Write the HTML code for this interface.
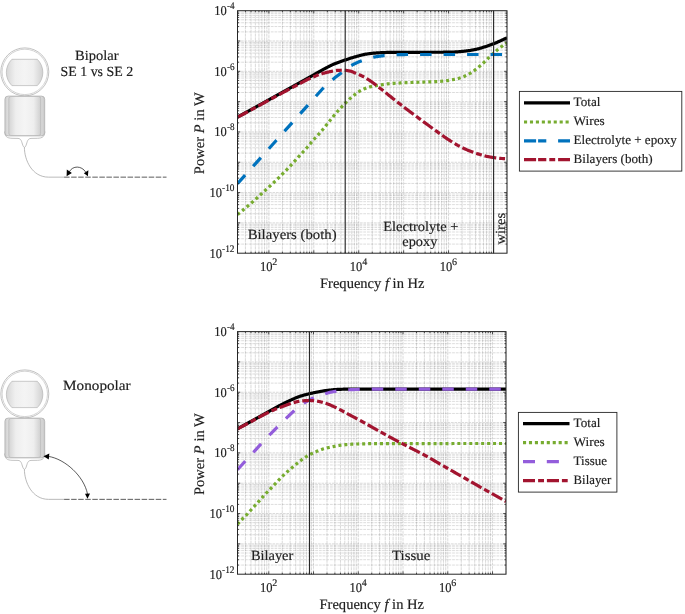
<!DOCTYPE html>
<html><head><meta charset="utf-8"><title>Power dissipation: bipolar vs monopolar</title>
<style>html,body{margin:0;padding:0;background:#fff}body{width:685px;height:614px;overflow:hidden}svg{display:block;will-change:transform}text{font-family:"Liberation Serif",serif;fill:#202020;stroke:#202020;stroke-width:0.16px;text-rendering:geometricPrecision}</style></head><body>
<svg width="685" height="614" viewBox="0 0 685 614">
<defs>
<linearGradient id="gBar" x1="0" x2="1" y1="0" y2="0"><stop offset="0" stop-color="#d6d6d6"/><stop offset="0.24" stop-color="#efefef"/><stop offset="0.5" stop-color="#f4f4f4"/><stop offset="0.74" stop-color="#efefef"/><stop offset="1" stop-color="#d0d0d0"/></linearGradient>
<linearGradient id="gBodyO" x1="0" x2="1" y1="0" y2="0"><stop offset="0" stop-color="#cfcfcf"/><stop offset="0.1" stop-color="#e2e2e2"/><stop offset="0.9" stop-color="#dcdcdc"/><stop offset="1" stop-color="#c8c8c8"/></linearGradient>
<linearGradient id="gBodyI" x1="0" x2="1" y1="0" y2="0"><stop offset="0" stop-color="#d4d4d4"/><stop offset="0.22" stop-color="#eeeeee"/><stop offset="0.5" stop-color="#f5f5f5"/><stop offset="0.78" stop-color="#eeeeee"/><stop offset="1" stop-color="#cfcfcf"/></linearGradient>
</defs>
<rect width="685" height="614" fill="#fff"/>
<!-- chart 1 : bipolar -->
<g stroke="#000" fill="none">
<path d="M237.50 10.70V253.20M245.41 10.70V253.20M251.02 10.70V253.20M255.37 10.70V253.20M258.93 10.70V253.20M261.94 10.70V253.20M264.54 10.70V253.20M266.84 10.70V253.20M282.42 10.70V253.20M290.33 10.70V253.20M295.94 10.70V253.20M300.29 10.70V253.20M303.85 10.70V253.20M306.85 10.70V253.20M309.46 10.70V253.20M311.76 10.70V253.20M327.33 10.70V253.20M335.24 10.70V253.20M340.85 10.70V253.20M345.21 10.70V253.20M348.76 10.70V253.20M351.77 10.70V253.20M354.38 10.70V253.20M356.67 10.70V253.20M372.25 10.70V253.20M380.16 10.70V253.20M385.77 10.70V253.20M390.12 10.70V253.20M393.68 10.70V253.20M396.69 10.70V253.20M399.29 10.70V253.20M401.59 10.70V253.20M417.17 10.70V253.20M425.08 10.70V253.20M430.69 10.70V253.20M435.04 10.70V253.20M438.60 10.70V253.20M441.60 10.70V253.20M444.21 10.70V253.20M446.51 10.70V253.20M462.08 10.70V253.20M469.99 10.70V253.20M475.60 10.70V253.20M479.96 10.70V253.20M483.51 10.70V253.20M486.52 10.70V253.20M489.13 10.70V253.20M491.42 10.70V253.20M507.00 10.70V253.20" stroke-width="0.9" stroke-opacity="0.17" stroke-dasharray="3.2 0.6"/>
<path d="M237.50 244.08H507.00M237.50 238.74H507.00M237.50 234.95H507.00M237.50 232.01H507.00M237.50 229.61H507.00M237.50 227.58H507.00M237.50 225.83H507.00M237.50 224.27H507.00M237.50 213.76H507.00M237.50 208.42H507.00M237.50 204.64H507.00M237.50 201.70H507.00M237.50 199.30H507.00M237.50 197.27H507.00M237.50 195.51H507.00M237.50 193.96H507.00M237.50 183.45H507.00M237.50 178.11H507.00M237.50 174.33H507.00M237.50 171.39H507.00M237.50 168.99H507.00M237.50 166.96H507.00M237.50 165.20H507.00M237.50 163.65H507.00M237.50 153.14H507.00M237.50 147.80H507.00M237.50 144.01H507.00M237.50 141.07H507.00M237.50 138.67H507.00M237.50 136.65H507.00M237.50 134.89H507.00M237.50 133.34H507.00M237.50 122.83H507.00M237.50 117.49H507.00M237.50 113.70H507.00M237.50 110.76H507.00M237.50 108.36H507.00M237.50 106.33H507.00M237.50 104.58H507.00M237.50 103.02H507.00M237.50 92.51H507.00M237.50 87.17H507.00M237.50 83.39H507.00M237.50 80.45H507.00M237.50 78.05H507.00M237.50 76.02H507.00M237.50 74.26H507.00M237.50 72.71H507.00M237.50 62.20H507.00M237.50 56.86H507.00M237.50 53.08H507.00M237.50 50.14H507.00M237.50 47.74H507.00M237.50 45.71H507.00M237.50 43.95H507.00M237.50 42.40H507.00M237.50 31.89H507.00M237.50 26.55H507.00M237.50 22.76H507.00M237.50 19.82H507.00M237.50 17.42H507.00M237.50 15.40H507.00M237.50 13.64H507.00M237.50 12.09H507.00" stroke-width="0.9" stroke-opacity="0.155" stroke-dasharray="2.8 0.9"/>
<path d="M268.90 10.70V253.20M313.81 10.70V253.20M358.73 10.70V253.20M403.65 10.70V253.20M448.56 10.70V253.20M493.48 10.70V253.20" stroke-width="0.9" stroke-opacity="0.17" stroke-dasharray="2.7 0.8"/>
<path d="M237.50 222.89H507.00M237.50 192.57H507.00M237.50 162.26H507.00M237.50 131.95H507.00M237.50 101.64H507.00M237.50 71.33H507.00M237.50 41.01H507.00" stroke-width="0.9" stroke-opacity="0.17" stroke-dasharray="2.7 0.8"/>
</g>
<clipPath id="cp1"><rect x="237.50" y="10.70" width="269.50" height="242.50"/></clipPath>
<g clip-path="url(#cp1)" fill="none" stroke-width="3.2">
<path d="M237.50 117.10L238.18 116.73L238.85 116.36L239.53 115.99L240.20 115.62L240.88 115.25L241.55 114.88L242.23 114.51L242.90 114.14L243.58 113.77L244.25 113.40L244.93 113.03L245.61 112.65L246.28 112.28L246.96 111.91L247.63 111.54L248.31 111.17L248.98 110.80L249.66 110.43L250.33 110.05L251.01 109.68L251.68 109.31L252.36 108.94L253.04 108.56L253.71 108.19L254.39 107.82L255.06 107.45L255.74 107.07L256.41 106.70L257.09 106.33L257.76 105.95L258.44 105.58L259.11 105.21L259.79 104.83L260.46 104.46L261.14 104.09L261.82 103.71L262.49 103.34L263.17 102.96L263.84 102.59L264.52 102.21L265.19 101.84L265.87 101.46L266.54 101.09L267.22 100.71L267.89 100.34L268.57 99.96L269.25 99.59L269.92 99.21L270.60 98.84L271.27 98.46L271.95 98.09L272.62 97.71L273.30 97.34L273.97 96.96L274.65 96.58L275.32 96.21L276.00 95.83L276.68 95.46L277.35 95.08L278.03 94.71L278.70 94.33L279.38 93.96L280.05 93.58L280.73 93.21L281.40 92.83L282.08 92.46L282.75 92.08L283.43 91.71L284.11 91.33L284.78 90.95L285.46 90.58L286.13 90.20L286.81 89.83L287.48 89.45L288.16 89.08L288.83 88.70L289.51 88.33L290.18 87.95L290.86 87.57L291.54 87.20L292.21 86.82L292.89 86.45L293.56 86.07L294.24 85.70L294.91 85.32L295.59 84.94L296.26 84.57L296.94 84.19L297.61 83.81L298.29 83.44L298.96 83.06L299.64 82.69L300.32 82.31L300.99 81.93L301.67 81.56L302.34 81.18L303.02 80.80L303.69 80.42L304.37 80.05L305.04 79.67L305.72 79.29L306.39 78.92L307.07 78.54L307.75 78.16L308.42 77.78L309.10 77.41L309.77 77.03L310.45 76.65L311.12 76.28L311.80 75.90L312.47 75.52L313.15 75.15L313.82 74.77L314.50 74.39L315.18 74.02L315.85 73.64L316.53 73.26L317.20 72.89L317.88 72.51L318.55 72.13L319.23 71.75L319.90 71.36L320.58 70.98L321.25 70.60L321.93 70.22L322.61 69.84L323.28 69.46L323.96 69.09L324.63 68.73L325.31 68.36L325.98 68.01L326.66 67.66L327.33 67.30L328.01 66.95L328.68 66.60L329.36 66.26L330.04 65.91L330.71 65.57L331.39 65.24L332.06 64.91L332.74 64.59L333.41 64.29L334.09 63.99L334.76 63.70L335.44 63.42L336.11 63.15L336.79 62.89L337.46 62.64L338.14 62.39L338.82 62.15L339.49 61.91L340.17 61.68L340.84 61.45L341.52 61.22L342.19 60.99L342.87 60.77L343.54 60.55L344.22 60.32L344.89 60.10L345.57 59.88L346.25 59.65L346.92 59.43L347.60 59.20L348.27 58.98L348.95 58.76L349.62 58.54L350.30 58.32L350.97 58.10L351.65 57.89L352.32 57.67L353.00 57.47L353.68 57.26L354.35 57.06L355.03 56.86L355.70 56.67L356.38 56.49L357.05 56.31L357.73 56.12L358.40 55.94L359.08 55.76L359.75 55.57L360.43 55.39L361.11 55.22L361.78 55.05L362.46 54.88L363.13 54.72L363.81 54.57L364.48 54.43L365.16 54.29L365.83 54.17L366.51 54.06L367.18 53.96L367.86 53.86L368.54 53.77L369.21 53.68L369.89 53.60L370.56 53.51L371.24 53.43L371.91 53.36L372.59 53.28L373.26 53.21L373.94 53.15L374.61 53.08L375.29 53.03L375.96 52.97L376.64 52.92L377.32 52.88L377.99 52.84L378.67 52.80L379.34 52.77L380.02 52.74L380.69 52.71L381.37 52.68L382.04 52.65L382.72 52.62L383.39 52.59L384.07 52.56L384.75 52.54L385.42 52.51L386.10 52.49L386.77 52.47L387.45 52.45L388.12 52.43L388.80 52.41L389.47 52.40L390.15 52.39L390.82 52.37L391.50 52.36L392.18 52.36L392.85 52.35L393.53 52.35L394.20 52.35L394.88 52.34L395.55 52.34L396.23 52.34L396.90 52.34L397.58 52.34L398.25 52.33L398.93 52.33L399.61 52.33L400.28 52.33L400.96 52.33L401.63 52.33L402.31 52.33L402.98 52.33L403.66 52.32L404.33 52.32L405.01 52.32L405.68 52.32L406.36 52.32L407.04 52.32L407.71 52.32L408.39 52.32L409.06 52.32L409.74 52.32L410.41 52.32L411.09 52.32L411.76 52.31L412.44 52.31L413.11 52.31L413.79 52.31L414.46 52.31L415.14 52.31L415.82 52.31L416.49 52.31L417.17 52.31L417.84 52.30L418.52 52.30L419.19 52.30L419.87 52.30L420.54 52.30L421.22 52.30L421.89 52.30L422.57 52.29L423.25 52.29L423.92 52.29L424.60 52.29L425.27 52.29L425.95 52.29L426.62 52.28L427.30 52.28L427.97 52.28L428.65 52.28L429.32 52.28L430.00 52.28L430.68 52.27L431.35 52.27L432.03 52.27L432.70 52.27L433.38 52.27L434.05 52.27L434.73 52.26L435.40 52.26L436.08 52.26L436.75 52.26L437.43 52.25L438.11 52.25L438.78 52.25L439.46 52.24L440.13 52.24L440.81 52.24L441.48 52.23L442.16 52.23L442.83 52.23L443.51 52.22L444.18 52.22L444.86 52.21L445.54 52.21L446.21 52.20L446.89 52.20L447.56 52.19L448.24 52.18L448.91 52.17L449.59 52.15L450.26 52.13L450.94 52.11L451.61 52.09L452.29 52.06L452.96 52.03L453.64 52.01L454.32 51.98L454.99 51.95L455.67 51.92L456.34 51.88L457.02 51.85L457.69 51.80L458.37 51.76L459.04 51.70L459.72 51.65L460.39 51.59L461.07 51.53L461.75 51.46L462.42 51.39L463.10 51.32L463.77 51.26L464.45 51.18L465.12 51.11L465.80 51.03L466.47 50.95L467.15 50.86L467.82 50.77L468.50 50.68L469.18 50.58L469.85 50.48L470.53 50.38L471.20 50.27L471.88 50.15L472.55 50.03L473.23 49.90L473.90 49.77L474.58 49.63L475.25 49.49L475.93 49.34L476.61 49.19L477.28 49.03L477.96 48.86L478.63 48.69L479.31 48.51L479.98 48.32L480.66 48.13L481.33 47.93L482.01 47.73L482.68 47.52L483.36 47.31L484.04 47.09L484.71 46.88L485.39 46.66L486.06 46.44L486.74 46.23L487.41 46.01L488.09 45.78L488.76 45.55L489.44 45.32L490.11 45.09L490.79 44.85L491.46 44.61L492.14 44.36L492.82 44.10L493.49 43.84L494.17 43.58L494.84 43.30L495.52 43.01L496.19 42.72L496.87 42.42L497.54 42.12L498.22 41.82L498.89 41.51L499.57 41.20L500.25 40.90L500.92 40.59L501.60 40.29L502.27 39.98L502.95 39.67L503.62 39.37L504.30 39.05L504.97 38.74L505.65 38.43L506.32 38.12L507.00 37.80" stroke="#000000"/>
<path d="M237.50 214.60L238.18 214.04L238.85 213.47L239.53 212.92L240.20 212.36L240.88 211.81L241.55 211.26L242.23 210.70L242.90 210.15L243.58 209.60L244.25 209.05L244.93 208.49L245.61 207.93L246.28 207.37L246.96 206.80L247.63 206.23L248.31 205.65L248.98 205.07L249.66 204.48L250.33 203.89L251.01 203.30L251.68 202.70L252.36 202.10L253.04 201.50L253.71 200.89L254.39 200.29L255.06 199.68L255.74 199.07L256.41 198.46L257.09 197.85L257.76 197.24L258.44 196.62L259.11 196.00L259.79 195.38L260.46 194.75L261.14 194.13L261.82 193.50L262.49 192.88L263.17 192.25L263.84 191.63L264.52 191.00L265.19 190.38L265.87 189.76L266.54 189.14L267.22 188.53L267.89 187.91L268.57 187.30L269.25 186.69L269.92 186.07L270.60 185.46L271.27 184.84L271.95 184.22L272.62 183.59L273.30 182.96L273.97 182.32L274.65 181.68L275.32 181.04L276.00 180.39L276.68 179.74L277.35 179.09L278.03 178.43L278.70 177.77L279.38 177.11L280.05 176.44L280.73 175.77L281.40 175.10L282.08 174.42L282.75 173.74L283.43 173.06L284.11 172.38L284.78 171.69L285.46 170.99L286.13 170.30L286.81 169.60L287.48 168.90L288.16 168.19L288.83 167.48L289.51 166.77L290.18 166.05L290.86 165.33L291.54 164.60L292.21 163.87L292.89 163.13L293.56 162.39L294.24 161.64L294.91 160.89L295.59 160.14L296.26 159.39L296.94 158.64L297.61 157.89L298.29 157.14L298.96 156.40L299.64 155.66L300.32 154.92L300.99 154.19L301.67 153.45L302.34 152.72L303.02 151.98L303.69 151.24L304.37 150.49L305.04 149.75L305.72 148.99L306.39 148.23L307.07 147.46L307.75 146.68L308.42 145.89L309.10 145.10L309.77 144.30L310.45 143.50L311.12 142.69L311.80 141.89L312.47 141.10L313.15 140.31L313.82 139.53L314.50 138.76L315.18 138.01L315.85 137.26L316.53 136.53L317.20 135.79L317.88 135.06L318.55 134.33L319.23 133.60L319.90 132.85L320.58 132.10L321.25 131.33L321.93 130.55L322.61 129.74L323.28 128.92L323.96 128.09L324.63 127.25L325.31 126.40L325.98 125.54L326.66 124.68L327.33 123.83L328.01 122.98L328.68 122.14L329.36 121.31L330.04 120.47L330.71 119.62L331.39 118.78L332.06 117.93L332.74 117.09L333.41 116.26L334.09 115.43L334.76 114.61L335.44 113.80L336.11 113.00L336.79 112.23L337.46 111.46L338.14 110.71L338.82 109.96L339.49 109.22L340.17 108.49L340.84 107.77L341.52 107.06L342.19 106.35L342.87 105.65L343.54 104.96L344.22 104.28L344.89 103.60L345.57 102.93L346.25 102.26L346.92 101.59L347.60 100.92L348.27 100.26L348.95 99.60L349.62 98.95L350.30 98.32L350.97 97.70L351.65 97.10L352.32 96.51L353.00 95.95L353.68 95.42L354.35 94.90L355.03 94.39L355.70 93.88L356.38 93.38L357.05 92.89L357.73 92.42L358.40 91.96L359.08 91.52L359.75 91.09L360.43 90.69L361.11 90.31L361.78 89.95L362.46 89.62L363.13 89.31L363.81 89.01L364.48 88.73L365.16 88.45L365.83 88.19L366.51 87.94L367.18 87.70L367.86 87.48L368.54 87.27L369.21 87.08L369.89 86.90L370.56 86.74L371.24 86.58L371.91 86.43L372.59 86.29L373.26 86.15L373.94 86.02L374.61 85.90L375.29 85.78L375.96 85.66L376.64 85.55L377.32 85.44L377.99 85.33L378.67 85.23L379.34 85.12L380.02 85.01L380.69 84.91L381.37 84.80L382.04 84.69L382.72 84.59L383.39 84.48L384.07 84.38L384.75 84.28L385.42 84.18L386.10 84.09L386.77 84.00L387.45 83.91L388.12 83.83L388.80 83.76L389.47 83.69L390.15 83.62L390.82 83.56L391.50 83.51L392.18 83.46L392.85 83.41L393.53 83.36L394.20 83.31L394.88 83.27L395.55 83.22L396.23 83.18L396.90 83.14L397.58 83.10L398.25 83.07L398.93 83.03L399.61 82.99L400.28 82.96L400.96 82.93L401.63 82.89L402.31 82.86L402.98 82.83L403.66 82.80L404.33 82.77L405.01 82.74L405.68 82.71L406.36 82.68L407.04 82.65L407.71 82.63L408.39 82.60L409.06 82.58L409.74 82.55L410.41 82.53L411.09 82.50L411.76 82.48L412.44 82.46L413.11 82.43L413.79 82.41L414.46 82.38L415.14 82.36L415.82 82.34L416.49 82.31L417.17 82.29L417.84 82.26L418.52 82.24L419.19 82.21L419.87 82.19L420.54 82.16L421.22 82.14L421.89 82.11L422.57 82.09L423.25 82.06L423.92 82.04L424.60 82.02L425.27 81.99L425.95 81.96L426.62 81.94L427.30 81.91L427.97 81.89L428.65 81.86L429.32 81.83L430.00 81.81L430.68 81.78L431.35 81.76L432.03 81.73L432.70 81.71L433.38 81.68L434.05 81.66L434.73 81.63L435.40 81.60L436.08 81.57L436.75 81.54L437.43 81.50L438.11 81.47L438.78 81.43L439.46 81.39L440.13 81.35L440.81 81.30L441.48 81.25L442.16 81.19L442.83 81.13L443.51 81.06L444.18 80.99L444.86 80.92L445.54 80.84L446.21 80.76L446.89 80.67L447.56 80.57L448.24 80.46L448.91 80.34L449.59 80.21L450.26 80.09L450.94 79.96L451.61 79.83L452.29 79.71L452.96 79.59L453.64 79.46L454.32 79.33L454.99 79.20L455.67 79.06L456.34 78.92L457.02 78.76L457.69 78.60L458.37 78.43L459.04 78.24L459.72 78.05L460.39 77.84L461.07 77.62L461.75 77.38L462.42 77.14L463.10 76.89L463.77 76.61L464.45 76.32L465.12 76.01L465.80 75.68L466.47 75.34L467.15 74.99L467.82 74.64L468.50 74.28L469.18 73.90L469.85 73.50L470.53 73.10L471.20 72.68L471.88 72.25L472.55 71.80L473.23 71.34L473.90 70.87L474.58 70.37L475.25 69.85L475.93 69.32L476.61 68.79L477.28 68.24L477.96 67.69L478.63 67.13L479.31 66.56L479.98 65.97L480.66 65.38L481.33 64.78L482.01 64.18L482.68 63.57L483.36 62.96L484.04 62.33L484.71 61.70L485.39 61.07L486.06 60.42L486.74 59.77L487.41 59.10L488.09 58.41L488.76 57.72L489.44 57.03L490.11 56.37L490.79 55.72L491.46 55.10L492.14 54.49L492.82 53.89L493.49 53.29L494.17 52.71L494.84 52.12L495.52 51.54L496.19 50.96L496.87 50.38L497.54 49.80L498.22 49.22L498.89 48.65L499.57 48.10L500.25 47.56L500.92 47.05L501.60 46.54L502.27 46.05L502.95 45.57L503.62 45.09L504.30 44.61L504.97 44.13L505.65 43.65L506.32 43.17L507.00 42.70" stroke="#77AC30" stroke-dasharray="3 2.95"/>
<path d="M237.50 183.70L238.18 182.95L238.85 182.19L239.53 181.44L240.20 180.69L240.88 179.93L241.55 179.18L242.23 178.43L242.90 177.67L243.58 176.92L244.25 176.17L244.93 175.41L245.61 174.66L246.28 173.91L246.96 173.15L247.63 172.40L248.31 171.65L248.98 170.89L249.66 170.14L250.33 169.39L251.01 168.63L251.68 167.88L252.36 167.13L253.04 166.37L253.71 165.62L254.39 164.86L255.06 164.11L255.74 163.36L256.41 162.60L257.09 161.85L257.76 161.10L258.44 160.34L259.11 159.59L259.79 158.83L260.46 158.08L261.14 157.33L261.82 156.57L262.49 155.82L263.17 155.07L263.84 154.31L264.52 153.56L265.19 152.80L265.87 152.05L266.54 151.30L267.22 150.54L267.89 149.79L268.57 149.03L269.25 148.28L269.92 147.52L270.60 146.77L271.27 146.02L271.95 145.26L272.62 144.51L273.30 143.75L273.97 143.00L274.65 142.24L275.32 141.49L276.00 140.74L276.68 139.98L277.35 139.23L278.03 138.47L278.70 137.72L279.38 136.97L280.05 136.21L280.73 135.46L281.40 134.70L282.08 133.95L282.75 133.19L283.43 132.44L284.11 131.69L284.78 130.93L285.46 130.18L286.13 129.43L286.81 128.67L287.48 127.92L288.16 127.16L288.83 126.41L289.51 125.66L290.18 124.90L290.86 124.15L291.54 123.39L292.21 122.64L292.89 121.89L293.56 121.13L294.24 120.38L294.91 119.62L295.59 118.87L296.26 118.12L296.94 117.36L297.61 116.61L298.29 115.86L298.96 115.10L299.64 114.35L300.32 113.60L300.99 112.84L301.67 112.09L302.34 111.34L303.02 110.58L303.69 109.83L304.37 109.08L305.04 108.32L305.72 107.57L306.39 106.82L307.07 106.06L307.75 105.31L308.42 104.55L309.10 103.80L309.77 103.04L310.45 102.29L311.12 101.54L311.80 100.78L312.47 100.03L313.15 99.28L313.82 98.53L314.50 97.78L315.18 97.03L315.85 96.28L316.53 95.53L317.20 94.79L317.88 94.04L318.55 93.28L319.23 92.52L319.90 91.77L320.58 91.01L321.25 90.26L321.93 89.52L322.61 88.78L323.28 88.06L323.96 87.36L324.63 86.67L325.31 85.99L325.98 85.32L326.66 84.66L327.33 84.02L328.01 83.39L328.68 82.78L329.36 82.19L330.04 81.62L330.71 81.07L331.39 80.53L332.06 80.00L332.74 79.47L333.41 78.93L334.09 78.40L334.76 77.87L335.44 77.34L336.11 76.81L336.79 76.28L337.46 75.76L338.14 75.23L338.82 74.72L339.49 74.20L340.17 73.68L340.84 73.17L341.52 72.66L342.19 72.15L342.87 71.64L343.54 71.12L344.22 70.59L344.89 70.06L345.57 69.53L346.25 69.01L346.92 68.49L347.60 67.98L348.27 67.49L348.95 67.01L349.62 66.55L350.30 66.11L350.97 65.70L351.65 65.32L352.32 64.95L353.00 64.59L353.68 64.24L354.35 63.91L355.03 63.58L355.70 63.26L356.38 62.95L357.05 62.65L357.73 62.35L358.40 62.07L359.08 61.79L359.75 61.52L360.43 61.26L361.11 61.00L361.78 60.76L362.46 60.52L363.13 60.28L363.81 60.05L364.48 59.82L365.16 59.59L365.83 59.37L366.51 59.15L367.18 58.94L367.86 58.73L368.54 58.53L369.21 58.33L369.89 58.14L370.56 57.96L371.24 57.79L371.91 57.62L372.59 57.46L373.26 57.31L373.94 57.17L374.61 57.04L375.29 56.91L375.96 56.79L376.64 56.67L377.32 56.55L377.99 56.44L378.67 56.34L379.34 56.23L380.02 56.13L380.69 56.04L381.37 55.95L382.04 55.87L382.72 55.79L383.39 55.71L384.07 55.64L384.75 55.58L385.42 55.51L386.10 55.45L386.77 55.39L387.45 55.33L388.12 55.27L388.80 55.22L389.47 55.16L390.15 55.11L390.82 55.06L391.50 55.01L392.18 54.97L392.85 54.93L393.53 54.89L394.20 54.85L394.88 54.81L395.55 54.78L396.23 54.75L396.90 54.73L397.58 54.70L398.25 54.68L398.93 54.66L399.61 54.64L400.28 54.63L400.96 54.61L401.63 54.59L402.31 54.57L402.98 54.56L403.66 54.55L404.33 54.53L405.01 54.52L405.68 54.51L406.36 54.51L407.04 54.50L407.71 54.50L408.39 54.50L409.06 54.50L409.74 54.50L410.41 54.50L411.09 54.50L411.76 54.50L412.44 54.50L413.11 54.50L413.79 54.50L414.46 54.50L415.14 54.50L415.82 54.50L416.49 54.50L417.17 54.50L417.84 54.50L418.52 54.50L419.19 54.50L419.87 54.50L420.54 54.50L421.22 54.50L421.89 54.50L422.57 54.50L423.25 54.50L423.92 54.50L424.60 54.50L425.27 54.50L425.95 54.50L426.62 54.50L427.30 54.50L427.97 54.50L428.65 54.50L429.32 54.50L430.00 54.50L430.68 54.50L431.35 54.50L432.03 54.50L432.70 54.50L433.38 54.50L434.05 54.50L434.73 54.50L435.40 54.50L436.08 54.50L436.75 54.50L437.43 54.50L438.11 54.50L438.78 54.50L439.46 54.50L440.13 54.50L440.81 54.50L441.48 54.50L442.16 54.50L442.83 54.50L443.51 54.50L444.18 54.50L444.86 54.50L445.54 54.50L446.21 54.50L446.89 54.50L447.56 54.50L448.24 54.50L448.91 54.50L449.59 54.50L450.26 54.50L450.94 54.50L451.61 54.50L452.29 54.50L452.96 54.50L453.64 54.50L454.32 54.50L454.99 54.50L455.67 54.50L456.34 54.50L457.02 54.50L457.69 54.50L458.37 54.50L459.04 54.50L459.72 54.50L460.39 54.50L461.07 54.50L461.75 54.50L462.42 54.50L463.10 54.50L463.77 54.50L464.45 54.50L465.12 54.50L465.80 54.50L466.47 54.50L467.15 54.50L467.82 54.50L468.50 54.50L469.18 54.50L469.85 54.50L470.53 54.50L471.20 54.50L471.88 54.50L472.55 54.50L473.23 54.50L473.90 54.50L474.58 54.50L475.25 54.50L475.93 54.50L476.61 54.50L477.28 54.50L477.96 54.50L478.63 54.50L479.31 54.50L479.98 54.50L480.66 54.50L481.33 54.50L482.01 54.50L482.68 54.50L483.36 54.50L484.04 54.50L484.71 54.50L485.39 54.50L486.06 54.50L486.74 54.50L487.41 54.50L488.09 54.50L488.76 54.50L489.44 54.50L490.11 54.50L490.79 54.50L491.46 54.50L492.14 54.50L492.82 54.50L493.49 54.50L494.17 54.50L494.84 54.50L495.52 54.50L496.19 54.50L496.87 54.50L497.54 54.50L498.22 54.50L498.89 54.50L499.57 54.50L500.25 54.50L500.92 54.50L501.60 54.50L502.27 54.50L502.95 54.50L503.62 54.50L504.30 54.50L504.97 54.50L505.65 54.50L506.32 54.50L507.00 54.50" stroke="#0072BD" stroke-dasharray="11.5 12.0"/>
<path d="M237.50 117.30L238.18 116.93L238.85 116.56L239.53 116.20L240.20 115.83L240.88 115.46L241.55 115.09L242.23 114.72L242.90 114.36L243.58 113.99L244.25 113.62L244.93 113.25L245.61 112.88L246.28 112.51L246.96 112.15L247.63 111.78L248.31 111.41L248.98 111.04L249.66 110.67L250.33 110.31L251.01 109.94L251.68 109.57L252.36 109.20L253.04 108.83L253.71 108.47L254.39 108.10L255.06 107.73L255.74 107.36L256.41 106.99L257.09 106.62L257.76 106.26L258.44 105.89L259.11 105.52L259.79 105.15L260.46 104.78L261.14 104.41L261.82 104.04L262.49 103.67L263.17 103.30L263.84 102.93L264.52 102.56L265.19 102.20L265.87 101.83L266.54 101.46L267.22 101.09L267.89 100.72L268.57 100.35L269.25 99.98L269.92 99.61L270.60 99.24L271.27 98.87L271.95 98.51L272.62 98.14L273.30 97.77L273.97 97.41L274.65 97.04L275.32 96.67L276.00 96.31L276.68 95.94L277.35 95.58L278.03 95.22L278.70 94.85L279.38 94.49L280.05 94.13L280.73 93.76L281.40 93.40L282.08 93.04L282.75 92.68L283.43 92.32L284.11 91.95L284.78 91.59L285.46 91.23L286.13 90.87L286.81 90.51L287.48 90.15L288.16 89.79L288.83 89.43L289.51 89.08L290.18 88.72L290.86 88.36L291.54 88.00L292.21 87.64L292.89 87.29L293.56 86.93L294.24 86.57L294.91 86.22L295.59 85.86L296.26 85.51L296.94 85.16L297.61 84.80L298.29 84.45L298.96 84.09L299.64 83.73L300.32 83.37L300.99 83.00L301.67 82.64L302.34 82.27L303.02 81.90L303.69 81.54L304.37 81.17L305.04 80.81L305.72 80.46L306.39 80.10L307.07 79.76L307.75 79.42L308.42 79.08L309.10 78.76L309.77 78.44L310.45 78.13L311.12 77.83L311.80 77.54L312.47 77.26L313.15 76.97L313.82 76.69L314.50 76.41L315.18 76.14L315.85 75.87L316.53 75.61L317.20 75.35L317.88 75.10L318.55 74.85L319.23 74.61L319.90 74.38L320.58 74.15L321.25 73.93L321.93 73.72L322.61 73.52L323.28 73.32L323.96 73.13L324.63 72.94L325.31 72.76L325.98 72.59L326.66 72.42L327.33 72.25L328.01 72.09L328.68 71.94L329.36 71.79L330.04 71.65L330.71 71.51L331.39 71.38L332.06 71.25L332.74 71.12L333.41 70.99L334.09 70.87L334.76 70.75L335.44 70.64L336.11 70.54L336.79 70.46L337.46 70.41L338.14 70.37L338.82 70.34L339.49 70.30L340.17 70.27L340.84 70.25L341.52 70.23L342.19 70.21L342.87 70.20L343.54 70.20L344.22 70.22L344.89 70.26L345.57 70.32L346.25 70.40L346.92 70.49L347.60 70.60L348.27 70.72L348.95 70.84L349.62 70.96L350.30 71.13L350.97 71.33L351.65 71.56L352.32 71.82L353.00 72.09L353.68 72.37L354.35 72.65L355.03 72.93L355.70 73.20L356.38 73.47L357.05 73.75L357.73 74.04L358.40 74.33L359.08 74.62L359.75 74.92L360.43 75.23L361.11 75.55L361.78 75.88L362.46 76.21L363.13 76.55L363.81 76.90L364.48 77.26L365.16 77.64L365.83 78.03L366.51 78.44L367.18 78.86L367.86 79.29L368.54 79.73L369.21 80.17L369.89 80.62L370.56 81.08L371.24 81.55L371.91 82.02L372.59 82.51L373.26 83.00L373.94 83.50L374.61 84.00L375.29 84.51L375.96 85.03L376.64 85.54L377.32 86.06L377.99 86.59L378.67 87.11L379.34 87.64L380.02 88.16L380.69 88.68L381.37 89.21L382.04 89.75L382.72 90.29L383.39 90.83L384.07 91.37L384.75 91.92L385.42 92.47L386.10 93.02L386.77 93.57L387.45 94.12L388.12 94.67L388.80 95.22L389.47 95.76L390.15 96.30L390.82 96.84L391.50 97.37L392.18 97.91L392.85 98.44L393.53 98.98L394.20 99.51L394.88 100.05L395.55 100.58L396.23 101.11L396.90 101.64L397.58 102.17L398.25 102.70L398.93 103.22L399.61 103.75L400.28 104.27L400.96 104.80L401.63 105.32L402.31 105.84L402.98 106.36L403.66 106.88L404.33 107.40L405.01 107.92L405.68 108.44L406.36 108.95L407.04 109.47L407.71 109.98L408.39 110.50L409.06 111.01L409.74 111.52L410.41 112.03L411.09 112.54L411.76 113.05L412.44 113.56L413.11 114.06L413.79 114.57L414.46 115.07L415.14 115.58L415.82 116.08L416.49 116.58L417.17 117.09L417.84 117.59L418.52 118.09L419.19 118.59L419.87 119.09L420.54 119.59L421.22 120.09L421.89 120.59L422.57 121.09L423.25 121.59L423.92 122.09L424.60 122.59L425.27 123.09L425.95 123.59L426.62 124.08L427.30 124.58L427.97 125.08L428.65 125.57L429.32 126.06L430.00 126.56L430.68 127.05L431.35 127.54L432.03 128.02L432.70 128.51L433.38 128.99L434.05 129.48L434.73 129.96L435.40 130.44L436.08 130.92L436.75 131.40L437.43 131.88L438.11 132.36L438.78 132.84L439.46 133.31L440.13 133.79L440.81 134.28L441.48 134.76L442.16 135.25L442.83 135.74L443.51 136.23L444.18 136.72L444.86 137.21L445.54 137.68L446.21 138.16L446.89 138.62L447.56 139.08L448.24 139.52L448.91 139.96L449.59 140.40L450.26 140.83L450.94 141.26L451.61 141.69L452.29 142.11L452.96 142.52L453.64 142.94L454.32 143.34L454.99 143.74L455.67 144.14L456.34 144.53L457.02 144.91L457.69 145.29L458.37 145.65L459.04 146.01L459.72 146.37L460.39 146.71L461.07 147.06L461.75 147.39L462.42 147.73L463.10 148.05L463.77 148.37L464.45 148.69L465.12 149.00L465.80 149.30L466.47 149.60L467.15 149.89L467.82 150.18L468.50 150.46L469.18 150.73L469.85 151.00L470.53 151.26L471.20 151.52L471.88 151.78L472.55 152.03L473.23 152.28L473.90 152.52L474.58 152.76L475.25 153.00L475.93 153.23L476.61 153.45L477.28 153.67L477.96 153.89L478.63 154.10L479.31 154.31L479.98 154.51L480.66 154.70L481.33 154.90L482.01 155.09L482.68 155.28L483.36 155.47L484.04 155.66L484.71 155.84L485.39 156.01L486.06 156.18L486.74 156.34L487.41 156.50L488.09 156.65L488.76 156.79L489.44 156.92L490.11 157.04L490.79 157.15L491.46 157.26L492.14 157.37L492.82 157.48L493.49 157.58L494.17 157.67L494.84 157.77L495.52 157.86L496.19 157.94L496.87 158.02L497.54 158.10L498.22 158.17L498.89 158.23L499.57 158.30L500.25 158.36L500.92 158.41L501.60 158.47L502.27 158.52L502.95 158.57L503.62 158.62L504.30 158.66L504.97 158.70L505.65 158.74L506.32 158.77L507.00 158.80" stroke="#A2142F" stroke-dasharray="11.9 3 5.85 2.9"/>
</g>
<path d="M345.20 10.70V253.20" stroke="#262626" stroke-width="1.1" fill="none"/>
<path d="M493.60 10.70V253.20" stroke="#262626" stroke-width="1.1" fill="none"/>
<path d="M268.90 253.20v-2.8M268.90 10.70v2.8M313.81 253.20v-2.8M313.81 10.70v2.8M358.73 253.20v-2.8M358.73 10.70v2.8M403.65 253.20v-2.8M403.65 10.70v2.8M448.56 253.20v-2.8M448.56 10.70v2.8M493.48 253.20v-2.8M493.48 10.70v2.8M245.41 253.20v-1.5M245.41 10.70v1.5M251.02 253.20v-1.5M251.02 10.70v1.5M255.37 253.20v-1.5M255.37 10.70v1.5M258.93 253.20v-1.5M258.93 10.70v1.5M261.94 253.20v-1.5M261.94 10.70v1.5M264.54 253.20v-1.5M264.54 10.70v1.5M266.84 253.20v-1.5M266.84 10.70v1.5M282.42 253.20v-1.5M282.42 10.70v1.5M290.33 253.20v-1.5M290.33 10.70v1.5M295.94 253.20v-1.5M295.94 10.70v1.5M300.29 253.20v-1.5M300.29 10.70v1.5M303.85 253.20v-1.5M303.85 10.70v1.5M306.85 253.20v-1.5M306.85 10.70v1.5M309.46 253.20v-1.5M309.46 10.70v1.5M311.76 253.20v-1.5M311.76 10.70v1.5M327.33 253.20v-1.5M327.33 10.70v1.5M335.24 253.20v-1.5M335.24 10.70v1.5M340.85 253.20v-1.5M340.85 10.70v1.5M345.21 253.20v-1.5M345.21 10.70v1.5M348.76 253.20v-1.5M348.76 10.70v1.5M351.77 253.20v-1.5M351.77 10.70v1.5M354.38 253.20v-1.5M354.38 10.70v1.5M356.67 253.20v-1.5M356.67 10.70v1.5M372.25 253.20v-1.5M372.25 10.70v1.5M380.16 253.20v-1.5M380.16 10.70v1.5M385.77 253.20v-1.5M385.77 10.70v1.5M390.12 253.20v-1.5M390.12 10.70v1.5M393.68 253.20v-1.5M393.68 10.70v1.5M396.69 253.20v-1.5M396.69 10.70v1.5M399.29 253.20v-1.5M399.29 10.70v1.5M401.59 253.20v-1.5M401.59 10.70v1.5M417.17 253.20v-1.5M417.17 10.70v1.5M425.08 253.20v-1.5M425.08 10.70v1.5M430.69 253.20v-1.5M430.69 10.70v1.5M435.04 253.20v-1.5M435.04 10.70v1.5M438.60 253.20v-1.5M438.60 10.70v1.5M441.60 253.20v-1.5M441.60 10.70v1.5M444.21 253.20v-1.5M444.21 10.70v1.5M446.51 253.20v-1.5M446.51 10.70v1.5M462.08 253.20v-1.5M462.08 10.70v1.5M469.99 253.20v-1.5M469.99 10.70v1.5M475.60 253.20v-1.5M475.60 10.70v1.5M479.96 253.20v-1.5M479.96 10.70v1.5M483.51 253.20v-1.5M483.51 10.70v1.5M486.52 253.20v-1.5M486.52 10.70v1.5M489.13 253.20v-1.5M489.13 10.70v1.5M491.42 253.20v-1.5M491.42 10.70v1.5M237.50 222.89h2.8M507.00 222.89h-2.8M237.50 192.57h2.8M507.00 192.57h-2.8M237.50 162.26h2.8M507.00 162.26h-2.8M237.50 131.95h2.8M507.00 131.95h-2.8M237.50 101.64h2.8M507.00 101.64h-2.8M237.50 71.33h2.8M507.00 71.33h-2.8M237.50 41.01h2.8M507.00 41.01h-2.8M237.50 244.08h1.5M507.00 244.08h-1.5M237.50 238.74h1.5M507.00 238.74h-1.5M237.50 234.95h1.5M507.00 234.95h-1.5M237.50 232.01h1.5M507.00 232.01h-1.5M237.50 229.61h1.5M507.00 229.61h-1.5M237.50 227.58h1.5M507.00 227.58h-1.5M237.50 225.83h1.5M507.00 225.83h-1.5M237.50 224.27h1.5M507.00 224.27h-1.5M237.50 213.76h1.5M507.00 213.76h-1.5M237.50 208.42h1.5M507.00 208.42h-1.5M237.50 204.64h1.5M507.00 204.64h-1.5M237.50 201.70h1.5M507.00 201.70h-1.5M237.50 199.30h1.5M507.00 199.30h-1.5M237.50 197.27h1.5M507.00 197.27h-1.5M237.50 195.51h1.5M507.00 195.51h-1.5M237.50 193.96h1.5M507.00 193.96h-1.5M237.50 183.45h1.5M507.00 183.45h-1.5M237.50 178.11h1.5M507.00 178.11h-1.5M237.50 174.33h1.5M507.00 174.33h-1.5M237.50 171.39h1.5M507.00 171.39h-1.5M237.50 168.99h1.5M507.00 168.99h-1.5M237.50 166.96h1.5M507.00 166.96h-1.5M237.50 165.20h1.5M507.00 165.20h-1.5M237.50 163.65h1.5M507.00 163.65h-1.5M237.50 153.14h1.5M507.00 153.14h-1.5M237.50 147.80h1.5M507.00 147.80h-1.5M237.50 144.01h1.5M507.00 144.01h-1.5M237.50 141.07h1.5M507.00 141.07h-1.5M237.50 138.67h1.5M507.00 138.67h-1.5M237.50 136.65h1.5M507.00 136.65h-1.5M237.50 134.89h1.5M507.00 134.89h-1.5M237.50 133.34h1.5M507.00 133.34h-1.5M237.50 122.83h1.5M507.00 122.83h-1.5M237.50 117.49h1.5M507.00 117.49h-1.5M237.50 113.70h1.5M507.00 113.70h-1.5M237.50 110.76h1.5M507.00 110.76h-1.5M237.50 108.36h1.5M507.00 108.36h-1.5M237.50 106.33h1.5M507.00 106.33h-1.5M237.50 104.58h1.5M507.00 104.58h-1.5M237.50 103.02h1.5M507.00 103.02h-1.5M237.50 92.51h1.5M507.00 92.51h-1.5M237.50 87.17h1.5M507.00 87.17h-1.5M237.50 83.39h1.5M507.00 83.39h-1.5M237.50 80.45h1.5M507.00 80.45h-1.5M237.50 78.05h1.5M507.00 78.05h-1.5M237.50 76.02h1.5M507.00 76.02h-1.5M237.50 74.26h1.5M507.00 74.26h-1.5M237.50 72.71h1.5M507.00 72.71h-1.5M237.50 62.20h1.5M507.00 62.20h-1.5M237.50 56.86h1.5M507.00 56.86h-1.5M237.50 53.08h1.5M507.00 53.08h-1.5M237.50 50.14h1.5M507.00 50.14h-1.5M237.50 47.74h1.5M507.00 47.74h-1.5M237.50 45.71h1.5M507.00 45.71h-1.5M237.50 43.95h1.5M507.00 43.95h-1.5M237.50 42.40h1.5M507.00 42.40h-1.5M237.50 31.89h1.5M507.00 31.89h-1.5M237.50 26.55h1.5M507.00 26.55h-1.5M237.50 22.76h1.5M507.00 22.76h-1.5M237.50 19.82h1.5M507.00 19.82h-1.5M237.50 17.42h1.5M507.00 17.42h-1.5M237.50 15.40h1.5M507.00 15.40h-1.5M237.50 13.64h1.5M507.00 13.64h-1.5M237.50 12.09h1.5M507.00 12.09h-1.5" stroke="#262626" stroke-width="0.8" fill="none"/>
<rect x="237.50" y="10.70" width="269.50" height="242.50" fill="none" stroke="#262626" stroke-width="1.0"/>
<text x="214.20" y="15.20" font-size="13.5" textLength="12.5" lengthAdjust="spacingAndGlyphs">10</text>
<text x="226.90" y="9.20" font-size="10" textLength="7.6" lengthAdjust="spacingAndGlyphs">-4</text>
<text x="214.20" y="75.83" font-size="13.5" textLength="12.5" lengthAdjust="spacingAndGlyphs">10</text>
<text x="226.90" y="69.83" font-size="10" textLength="7.6" lengthAdjust="spacingAndGlyphs">-6</text>
<text x="214.20" y="136.45" font-size="13.5" textLength="12.5" lengthAdjust="spacingAndGlyphs">10</text>
<text x="226.90" y="130.45" font-size="10" textLength="7.6" lengthAdjust="spacingAndGlyphs">-8</text>
<text x="209.40" y="197.07" font-size="13.5" textLength="12.5" lengthAdjust="spacingAndGlyphs">10</text>
<text x="222.10" y="191.07" font-size="10" textLength="12.4" lengthAdjust="spacingAndGlyphs">-10</text>
<text x="209.40" y="257.70" font-size="13.5" textLength="12.5" lengthAdjust="spacingAndGlyphs">10</text>
<text x="222.10" y="251.70" font-size="10" textLength="12.4" lengthAdjust="spacingAndGlyphs">-12</text>
<text x="260.00" y="271.30" font-size="13.5" textLength="12.5" lengthAdjust="spacingAndGlyphs">10</text>
<text x="272.30" y="265.00" font-size="10">2</text>
<text x="349.83" y="271.30" font-size="13.5" textLength="12.5" lengthAdjust="spacingAndGlyphs">10</text>
<text x="362.13" y="265.00" font-size="10">4</text>
<text x="439.66" y="271.30" font-size="13.5" textLength="12.5" lengthAdjust="spacingAndGlyphs">10</text>
<text x="451.96" y="265.00" font-size="10">6</text>
<text x="320.00" y="288.10" font-size="14.5" textLength="104.5" lengthAdjust="spacingAndGlyphs">Frequency <tspan font-style="italic">f</tspan> in Hz</text>
<text transform="translate(203.9 174.15) rotate(-90)" font-size="14.5" textLength="82" lengthAdjust="spacingAndGlyphs">Power <tspan font-style="italic">P</tspan> in W</text>
<text x="247.7" y="238.6" font-size="14" textLength="88.9" lengthAdjust="spacingAndGlyphs">Bilayers (both)</text>
<text x="383.3" y="230.7" font-size="14" textLength="75" lengthAdjust="spacingAndGlyphs">Electrolyte +</text>
<text x="402.3" y="246.0" font-size="14" textLength="35.1" lengthAdjust="spacingAndGlyphs">epoxy</text>
<text transform="translate(505.4 244.5) rotate(-90)" font-size="14" textLength="31.6" lengthAdjust="spacingAndGlyphs">wires</text>
<!-- chart 2 : monopolar -->
<g stroke="#000" fill="none">
<path d="M237.50 331.60V574.20M245.38 331.60V574.20M250.97 331.60V574.20M255.31 331.60V574.20M258.85 331.60V574.20M261.85 331.60V574.20M264.44 331.60V574.20M266.73 331.60V574.20M282.25 331.60V574.20M290.13 331.60V574.20M295.72 331.60V574.20M300.06 331.60V574.20M303.60 331.60V574.20M306.60 331.60V574.20M309.19 331.60V574.20M311.48 331.60V574.20M327.00 331.60V574.20M334.88 331.60V574.20M340.47 331.60V574.20M344.81 331.60V574.20M348.35 331.60V574.20M351.35 331.60V574.20M353.94 331.60V574.20M356.23 331.60V574.20M371.75 331.60V574.20M379.63 331.60V574.20M385.22 331.60V574.20M389.56 331.60V574.20M393.10 331.60V574.20M396.10 331.60V574.20M398.69 331.60V574.20M400.98 331.60V574.20M416.50 331.60V574.20M424.38 331.60V574.20M429.97 331.60V574.20M434.31 331.60V574.20M437.85 331.60V574.20M440.85 331.60V574.20M443.44 331.60V574.20M445.73 331.60V574.20M461.25 331.60V574.20M469.13 331.60V574.20M474.72 331.60V574.20M479.06 331.60V574.20M482.60 331.60V574.20M485.60 331.60V574.20M488.19 331.60V574.20M490.48 331.60V574.20M506.00 331.60V574.20" stroke-width="0.9" stroke-opacity="0.17" stroke-dasharray="3.2 0.6"/>
<path d="M237.50 565.07H506.00M237.50 559.73H506.00M237.50 555.94H506.00M237.50 553.00H506.00M237.50 550.60H506.00M237.50 548.57H506.00M237.50 546.81H506.00M237.50 545.26H506.00M237.50 534.75H506.00M237.50 529.41H506.00M237.50 525.62H506.00M237.50 522.68H506.00M237.50 520.28H506.00M237.50 518.25H506.00M237.50 516.49H506.00M237.50 514.94H506.00M237.50 504.42H506.00M237.50 499.08H506.00M237.50 495.29H506.00M237.50 492.35H506.00M237.50 489.95H506.00M237.50 487.92H506.00M237.50 486.16H506.00M237.50 484.61H506.00M237.50 474.10H506.00M237.50 468.76H506.00M237.50 464.97H506.00M237.50 462.03H506.00M237.50 459.63H506.00M237.50 457.60H506.00M237.50 455.84H506.00M237.50 454.29H506.00M237.50 443.77H506.00M237.50 438.43H506.00M237.50 434.64H506.00M237.50 431.70H506.00M237.50 429.30H506.00M237.50 427.27H506.00M237.50 425.51H506.00M237.50 423.96H506.00M237.50 413.45H506.00M237.50 408.11H506.00M237.50 404.32H506.00M237.50 401.38H506.00M237.50 398.98H506.00M237.50 396.95H506.00M237.50 395.19H506.00M237.50 393.64H506.00M237.50 383.12H506.00M237.50 377.78H506.00M237.50 373.99H506.00M237.50 371.05H506.00M237.50 368.65H506.00M237.50 366.62H506.00M237.50 364.86H506.00M237.50 363.31H506.00M237.50 352.80H506.00M237.50 347.46H506.00M237.50 343.67H506.00M237.50 340.73H506.00M237.50 338.33H506.00M237.50 336.30H506.00M237.50 334.54H506.00M237.50 332.99H506.00" stroke-width="0.9" stroke-opacity="0.155" stroke-dasharray="2.8 0.9"/>
<path d="M268.78 331.60V574.20M313.53 331.60V574.20M358.28 331.60V574.20M403.03 331.60V574.20M447.78 331.60V574.20M492.53 331.60V574.20" stroke-width="0.9" stroke-opacity="0.17" stroke-dasharray="2.7 0.8"/>
<path d="M237.50 543.88H506.00M237.50 513.55H506.00M237.50 483.23H506.00M237.50 452.90H506.00M237.50 422.58H506.00M237.50 392.25H506.00M237.50 361.93H506.00" stroke-width="0.9" stroke-opacity="0.17" stroke-dasharray="2.7 0.8"/>
</g>
<clipPath id="cp2"><rect x="237.50" y="331.60" width="268.50" height="242.60"/></clipPath>
<g clip-path="url(#cp2)" fill="none" stroke-width="3.2">
<path d="M237.50 428.80L238.17 428.43L238.85 428.06L239.52 427.70L240.19 427.33L240.86 426.96L241.54 426.59L242.21 426.22L242.88 425.85L243.56 425.48L244.23 425.11L244.90 424.74L245.58 424.37L246.25 424.00L246.92 423.63L247.59 423.26L248.27 422.89L248.94 422.52L249.61 422.15L250.29 421.78L250.96 421.40L251.63 421.03L252.30 420.66L252.98 420.29L253.65 419.91L254.32 419.54L255.00 419.17L255.67 418.79L256.34 418.42L257.02 418.04L257.69 417.67L258.36 417.30L259.03 416.92L259.71 416.55L260.38 416.17L261.05 415.80L261.73 415.43L262.40 415.05L263.07 414.68L263.74 414.31L264.42 413.94L265.09 413.56L265.76 413.19L266.44 412.81L267.11 412.43L267.78 412.05L268.45 411.68L269.13 411.30L269.80 410.92L270.47 410.54L271.15 410.16L271.82 409.79L272.49 409.41L273.17 409.04L273.84 408.66L274.51 408.29L275.18 407.93L275.86 407.56L276.53 407.20L277.20 406.84L277.88 406.48L278.55 406.13L279.22 405.79L279.89 405.44L280.57 405.09L281.24 404.75L281.91 404.41L282.59 404.06L283.26 403.72L283.93 403.38L284.61 403.04L285.28 402.71L285.95 402.38L286.62 402.05L287.30 401.72L287.97 401.39L288.64 401.07L289.32 400.76L289.99 400.44L290.66 400.14L291.33 399.83L292.01 399.53L292.68 399.24L293.35 398.95L294.03 398.66L294.70 398.38L295.37 398.10L296.05 397.83L296.72 397.55L297.39 397.29L298.06 397.03L298.74 396.78L299.41 396.54L300.08 396.30L300.76 396.08L301.43 395.86L302.10 395.66L302.77 395.46L303.45 395.26L304.12 395.07L304.79 394.89L305.47 394.71L306.14 394.53L306.81 394.36L307.48 394.19L308.16 394.02L308.83 393.86L309.50 393.70L310.18 393.54L310.85 393.39L311.52 393.24L312.20 393.09L312.87 392.94L313.54 392.80L314.21 392.66L314.89 392.52L315.56 392.39L316.23 392.25L316.91 392.12L317.58 391.98L318.25 391.85L318.92 391.72L319.60 391.59L320.27 391.47L320.94 391.34L321.62 391.23L322.29 391.11L322.96 391.01L323.64 390.90L324.31 390.80L324.98 390.71L325.65 390.62L326.33 390.53L327.00 390.44L327.67 390.36L328.35 390.28L329.02 390.20L329.69 390.12L330.36 390.04L331.04 389.97L331.71 389.90L332.38 389.83L333.06 389.76L333.73 389.70L334.40 389.64L335.08 389.59L335.75 389.55L336.42 389.51L337.09 389.47L337.77 389.43L338.44 389.39L339.11 389.36L339.79 389.33L340.46 389.30L341.13 389.28L341.80 389.26L342.48 389.24L343.15 389.22L343.82 389.20L344.50 389.18L345.17 389.16L345.84 389.14L346.52 389.13L347.19 389.12L347.86 389.11L348.53 389.10L349.21 389.10L349.88 389.10L350.55 389.10L351.23 389.10L351.90 389.10L352.57 389.10L353.24 389.10L353.92 389.10L354.59 389.10L355.26 389.10L355.94 389.10L356.61 389.10L357.28 389.10L357.95 389.10L358.63 389.10L359.30 389.10L359.97 389.10L360.65 389.10L361.32 389.10L361.99 389.10L362.67 389.10L363.34 389.10L364.01 389.10L364.68 389.10L365.36 389.10L366.03 389.10L366.70 389.10L367.38 389.10L368.05 389.10L368.72 389.10L369.39 389.10L370.07 389.10L370.74 389.10L371.41 389.10L372.09 389.10L372.76 389.10L373.43 389.10L374.11 389.10L374.78 389.10L375.45 389.10L376.12 389.10L376.80 389.10L377.47 389.10L378.14 389.10L378.82 389.10L379.49 389.10L380.16 389.10L380.83 389.10L381.51 389.10L382.18 389.10L382.85 389.10L383.53 389.10L384.20 389.10L384.87 389.10L385.55 389.10L386.22 389.10L386.89 389.10L387.56 389.10L388.24 389.10L388.91 389.10L389.58 389.10L390.26 389.10L390.93 389.10L391.60 389.10L392.27 389.10L392.95 389.10L393.62 389.10L394.29 389.10L394.97 389.10L395.64 389.10L396.31 389.10L396.98 389.10L397.66 389.10L398.33 389.10L399.00 389.10L399.68 389.10L400.35 389.10L401.02 389.10L401.70 389.10L402.37 389.10L403.04 389.10L403.71 389.10L404.39 389.10L405.06 389.10L405.73 389.10L406.41 389.10L407.08 389.10L407.75 389.10L408.42 389.10L409.10 389.10L409.77 389.10L410.44 389.10L411.12 389.10L411.79 389.10L412.46 389.10L413.14 389.10L413.81 389.10L414.48 389.10L415.15 389.10L415.83 389.10L416.50 389.10L417.17 389.10L417.85 389.10L418.52 389.10L419.19 389.10L419.86 389.10L420.54 389.10L421.21 389.10L421.88 389.10L422.56 389.10L423.23 389.10L423.90 389.10L424.58 389.10L425.25 389.10L425.92 389.10L426.59 389.10L427.27 389.10L427.94 389.10L428.61 389.10L429.29 389.10L429.96 389.10L430.63 389.10L431.30 389.10L431.98 389.10L432.65 389.10L433.32 389.10L434.00 389.10L434.67 389.10L435.34 389.10L436.02 389.10L436.69 389.10L437.36 389.10L438.03 389.10L438.71 389.10L439.38 389.10L440.05 389.10L440.73 389.10L441.40 389.10L442.07 389.10L442.74 389.10L443.42 389.10L444.09 389.10L444.76 389.10L445.44 389.10L446.11 389.10L446.78 389.10L447.45 389.10L448.13 389.10L448.80 389.10L449.47 389.10L450.15 389.10L450.82 389.10L451.49 389.10L452.17 389.10L452.84 389.10L453.51 389.10L454.18 389.10L454.86 389.10L455.53 389.10L456.20 389.10L456.88 389.10L457.55 389.10L458.22 389.10L458.89 389.10L459.57 389.10L460.24 389.10L460.91 389.10L461.59 389.10L462.26 389.10L462.93 389.10L463.61 389.10L464.28 389.10L464.95 389.10L465.62 389.10L466.30 389.10L466.97 389.10L467.64 389.10L468.32 389.10L468.99 389.10L469.66 389.10L470.33 389.10L471.01 389.10L471.68 389.10L472.35 389.10L473.03 389.10L473.70 389.10L474.37 389.10L475.05 389.10L475.72 389.10L476.39 389.10L477.06 389.10L477.74 389.10L478.41 389.10L479.08 389.10L479.76 389.10L480.43 389.10L481.10 389.10L481.77 389.10L482.45 389.10L483.12 389.10L483.79 389.10L484.47 389.10L485.14 389.10L485.81 389.10L486.48 389.10L487.16 389.10L487.83 389.10L488.50 389.10L489.18 389.10L489.85 389.10L490.52 389.10L491.20 389.10L491.87 389.10L492.54 389.10L493.21 389.10L493.89 389.10L494.56 389.10L495.23 389.10L495.91 389.10L496.58 389.10L497.25 389.10L497.92 389.10L498.60 389.10L499.27 389.10L499.94 389.10L500.62 389.10L501.29 389.10L501.96 389.10L502.64 389.10L503.31 389.10L503.98 389.10L504.65 389.10L505.33 389.10L506.00 389.10" stroke="#000000"/>
<path d="M237.50 524.20L238.17 523.44L238.85 522.69L239.52 521.95L240.19 521.22L240.86 520.50L241.54 519.79L242.21 519.09L242.88 518.41L243.56 517.76L244.23 517.12L244.90 516.48L245.58 515.83L246.25 515.16L246.92 514.45L247.59 513.73L248.27 512.98L248.94 512.23L249.61 511.47L250.29 510.73L250.96 509.98L251.63 509.24L252.30 508.50L252.98 507.76L253.65 507.02L254.32 506.28L255.00 505.55L255.67 504.83L256.34 504.11L257.02 503.39L257.69 502.66L258.36 501.92L259.03 501.17L259.71 500.41L260.38 499.64L261.05 498.88L261.73 498.12L262.40 497.37L263.07 496.62L263.74 495.87L264.42 495.12L265.09 494.39L265.76 493.66L266.44 492.95L267.11 492.25L267.78 491.57L268.45 490.89L269.13 490.20L269.80 489.52L270.47 488.81L271.15 488.09L271.82 487.37L272.49 486.64L273.17 485.91L273.84 485.19L274.51 484.48L275.18 483.78L275.86 483.09L276.53 482.41L277.20 481.73L277.88 481.04L278.55 480.34L279.22 479.63L279.89 478.91L280.57 478.19L281.24 477.48L281.91 476.79L282.59 476.12L283.26 475.46L283.93 474.82L284.61 474.20L285.28 473.58L285.95 472.96L286.62 472.36L287.30 471.76L287.97 471.17L288.64 470.59L289.32 470.01L289.99 469.44L290.66 468.86L291.33 468.28L292.01 467.70L292.68 467.10L293.35 466.51L294.03 465.92L294.70 465.34L295.37 464.77L296.05 464.22L296.72 463.67L297.39 463.13L298.06 462.60L298.74 462.07L299.41 461.55L300.08 461.04L300.76 460.53L301.43 460.02L302.10 459.52L302.77 459.02L303.45 458.54L304.12 458.06L304.79 457.60L305.47 457.16L306.14 456.73L306.81 456.31L307.48 455.89L308.16 455.49L308.83 455.10L309.50 454.73L310.18 454.37L310.85 454.02L311.52 453.70L312.20 453.39L312.87 453.09L313.54 452.80L314.21 452.51L314.89 452.22L315.56 451.93L316.23 451.63L316.91 451.33L317.58 451.02L318.25 450.72L318.92 450.43L319.60 450.15L320.27 449.89L320.94 449.65L321.62 449.42L322.29 449.20L322.96 448.99L323.64 448.79L324.31 448.60L324.98 448.41L325.65 448.24L326.33 448.07L327.00 447.91L327.67 447.76L328.35 447.62L329.02 447.48L329.69 447.35L330.36 447.22L331.04 447.09L331.71 446.96L332.38 446.82L333.06 446.68L333.73 446.53L334.40 446.37L335.08 446.22L335.75 446.07L336.42 445.92L337.09 445.79L337.77 445.67L338.44 445.56L339.11 445.46L339.79 445.36L340.46 445.27L341.13 445.18L341.80 445.10L342.48 445.02L343.15 444.94L343.82 444.86L344.50 444.79L345.17 444.71L345.84 444.64L346.52 444.57L347.19 444.51L347.86 444.45L348.53 444.40L349.21 444.36L349.88 444.32L350.55 444.28L351.23 444.25L351.90 444.21L352.57 444.18L353.24 444.15L353.92 444.12L354.59 444.10L355.26 444.07L355.94 444.05L356.61 444.02L357.28 444.00L357.95 443.98L358.63 443.96L359.30 443.94L359.97 443.93L360.65 443.91L361.32 443.89L361.99 443.88L362.67 443.86L363.34 443.84L364.01 443.83L364.68 443.81L365.36 443.80L366.03 443.78L366.70 443.77L367.38 443.75L368.05 443.74L368.72 443.72L369.39 443.71L370.07 443.70L370.74 443.69L371.41 443.67L372.09 443.66L372.76 443.65L373.43 443.64L374.11 443.64L374.78 443.63L375.45 443.62L376.12 443.61L376.80 443.61L377.47 443.60L378.14 443.60L378.82 443.60L379.49 443.60L380.16 443.60L380.83 443.59L381.51 443.59L382.18 443.59L382.85 443.59L383.53 443.59L384.20 443.59L384.87 443.59L385.55 443.58L386.22 443.58L386.89 443.58L387.56 443.58L388.24 443.58L388.91 443.58L389.58 443.58L390.26 443.58L390.93 443.58L391.60 443.58L392.27 443.57L392.95 443.57L393.62 443.57L394.29 443.57L394.97 443.57L395.64 443.57L396.31 443.57L396.98 443.57L397.66 443.57L398.33 443.57L399.00 443.57L399.68 443.57L400.35 443.57L401.02 443.56L401.70 443.56L402.37 443.56L403.04 443.56L403.71 443.56L404.39 443.56L405.06 443.56L405.73 443.56L406.41 443.56L407.08 443.56L407.75 443.56L408.42 443.56L409.10 443.56L409.77 443.56L410.44 443.56L411.12 443.56L411.79 443.56L412.46 443.56L413.14 443.56L413.81 443.55L414.48 443.55L415.15 443.55L415.83 443.55L416.50 443.55L417.17 443.55L417.85 443.55L418.52 443.55L419.19 443.55L419.86 443.55L420.54 443.55L421.21 443.55L421.88 443.55L422.56 443.55L423.23 443.55L423.90 443.55L424.58 443.55L425.25 443.55L425.92 443.55L426.59 443.54L427.27 443.54L427.94 443.54L428.61 443.54L429.29 443.54L429.96 443.54L430.63 443.54L431.30 443.54L431.98 443.54L432.65 443.54L433.32 443.54L434.00 443.54L434.67 443.54L435.34 443.54L436.02 443.54L436.69 443.54L437.36 443.54L438.03 443.54L438.71 443.54L439.38 443.53L440.05 443.53L440.73 443.53L441.40 443.53L442.07 443.53L442.74 443.53L443.42 443.53L444.09 443.53L444.76 443.53L445.44 443.53L446.11 443.53L446.78 443.53L447.45 443.53L448.13 443.53L448.80 443.53L449.47 443.53L450.15 443.53L450.82 443.53L451.49 443.53L452.17 443.53L452.84 443.52L453.51 443.52L454.18 443.52L454.86 443.52L455.53 443.52L456.20 443.52L456.88 443.52L457.55 443.52L458.22 443.52L458.89 443.52L459.57 443.52L460.24 443.52L460.91 443.52L461.59 443.52L462.26 443.52L462.93 443.52L463.61 443.52L464.28 443.52L464.95 443.52L465.62 443.52L466.30 443.52L466.97 443.52L467.64 443.52L468.32 443.51L468.99 443.51L469.66 443.51L470.33 443.51L471.01 443.51L471.68 443.51L472.35 443.51L473.03 443.51L473.70 443.51L474.37 443.51L475.05 443.51L475.72 443.51L476.39 443.51L477.06 443.51L477.74 443.51L478.41 443.51L479.08 443.51L479.76 443.51L480.43 443.51L481.10 443.51L481.77 443.51L482.45 443.51L483.12 443.51L483.79 443.51L484.47 443.51L485.14 443.51L485.81 443.51L486.48 443.51L487.16 443.51L487.83 443.51L488.50 443.50L489.18 443.50L489.85 443.50L490.52 443.50L491.20 443.50L491.87 443.50L492.54 443.50L493.21 443.50L493.89 443.50L494.56 443.50L495.23 443.50L495.91 443.50L496.58 443.50L497.25 443.50L497.92 443.50L498.60 443.50L499.27 443.50L499.94 443.50L500.62 443.50L501.29 443.50L501.96 443.50L502.64 443.50L503.31 443.50L503.98 443.50L504.65 443.50L505.33 443.50L506.00 443.50" stroke="#77AC30" stroke-dasharray="3 2.95"/>
<path d="M237.50 469.70L238.17 468.96L238.85 468.21L239.52 467.47L240.19 466.73L240.86 465.99L241.54 465.25L242.21 464.51L242.88 463.77L243.56 463.03L244.23 462.29L244.90 461.55L245.58 460.82L246.25 460.08L246.92 459.34L247.59 458.61L248.27 457.88L248.94 457.14L249.61 456.41L250.29 455.67L250.96 454.94L251.63 454.21L252.30 453.48L252.98 452.75L253.65 452.02L254.32 451.29L255.00 450.56L255.67 449.83L256.34 449.09L257.02 448.36L257.69 447.63L258.36 446.90L259.03 446.16L259.71 445.43L260.38 444.70L261.05 443.97L261.73 443.25L262.40 442.52L263.07 441.80L263.74 441.07L264.42 440.35L265.09 439.63L265.76 438.92L266.44 438.21L267.11 437.50L267.78 436.79L268.45 436.09L269.13 435.39L269.80 434.69L270.47 434.00L271.15 433.31L271.82 432.63L272.49 431.95L273.17 431.27L273.84 430.59L274.51 429.92L275.18 429.25L275.86 428.58L276.53 427.92L277.20 427.25L277.88 426.58L278.55 425.92L279.22 425.25L279.89 424.59L280.57 423.92L281.24 423.26L281.91 422.59L282.59 421.91L283.26 421.24L283.93 420.56L284.61 419.88L285.28 419.20L285.95 418.53L286.62 417.85L287.30 417.19L287.97 416.53L288.64 415.87L289.32 415.23L289.99 414.60L290.66 413.97L291.33 413.36L292.01 412.74L292.68 412.14L293.35 411.54L294.03 410.94L294.70 410.36L295.37 409.78L296.05 409.21L296.72 408.64L297.39 408.09L298.06 407.55L298.74 407.01L299.41 406.48L300.08 405.96L300.76 405.44L301.43 404.93L302.10 404.44L302.77 403.96L303.45 403.50L304.12 403.06L304.79 402.63L305.47 402.21L306.14 401.81L306.81 401.42L307.48 401.03L308.16 400.66L308.83 400.29L309.50 399.93L310.18 399.57L310.85 399.22L311.52 398.87L312.20 398.53L312.87 398.21L313.54 397.89L314.21 397.59L314.89 397.31L315.56 397.03L316.23 396.77L316.91 396.51L317.58 396.26L318.25 396.02L318.92 395.78L319.60 395.54L320.27 395.31L320.94 395.07L321.62 394.84L322.29 394.62L322.96 394.40L323.64 394.18L324.31 393.97L324.98 393.77L325.65 393.56L326.33 393.36L327.00 393.16L327.67 392.96L328.35 392.76L329.02 392.58L329.69 392.40L330.36 392.24L331.04 392.09L331.71 391.96L332.38 391.84L333.06 391.72L333.73 391.61L334.40 391.50L335.08 391.40L335.75 391.30L336.42 391.20L337.09 391.09L337.77 390.99L338.44 390.88L339.11 390.78L339.79 390.69L340.46 390.59L341.13 390.50L341.80 390.42L342.48 390.35L343.15 390.27L343.82 390.20L344.50 390.13L345.17 390.06L345.84 390.00L346.52 389.94L347.19 389.89L347.86 389.84L348.53 389.80L349.21 389.77L349.88 389.74L350.55 389.70L351.23 389.67L351.90 389.65L352.57 389.62L353.24 389.59L353.92 389.57L354.59 389.55L355.26 389.52L355.94 389.50L356.61 389.48L357.28 389.46L357.95 389.45L358.63 389.43L359.30 389.41L359.97 389.40L360.65 389.38L361.32 389.37L361.99 389.35L362.67 389.34L363.34 389.32L364.01 389.31L364.68 389.29L365.36 389.28L366.03 389.26L366.70 389.25L367.38 389.24L368.05 389.23L368.72 389.22L369.39 389.21L370.07 389.21L370.74 389.20L371.41 389.20L372.09 389.20L372.76 389.20L373.43 389.20L374.11 389.20L374.78 389.20L375.45 389.20L376.12 389.20L376.80 389.20L377.47 389.20L378.14 389.20L378.82 389.20L379.49 389.20L380.16 389.20L380.83 389.20L381.51 389.20L382.18 389.20L382.85 389.20L383.53 389.20L384.20 389.20L384.87 389.20L385.55 389.20L386.22 389.20L386.89 389.20L387.56 389.20L388.24 389.20L388.91 389.20L389.58 389.20L390.26 389.20L390.93 389.20L391.60 389.20L392.27 389.20L392.95 389.20L393.62 389.20L394.29 389.20L394.97 389.20L395.64 389.20L396.31 389.20L396.98 389.20L397.66 389.20L398.33 389.20L399.00 389.20L399.68 389.20L400.35 389.20L401.02 389.20L401.70 389.20L402.37 389.20L403.04 389.20L403.71 389.20L404.39 389.20L405.06 389.20L405.73 389.20L406.41 389.20L407.08 389.20L407.75 389.20L408.42 389.20L409.10 389.20L409.77 389.20L410.44 389.20L411.12 389.20L411.79 389.20L412.46 389.20L413.14 389.20L413.81 389.20L414.48 389.20L415.15 389.20L415.83 389.20L416.50 389.20L417.17 389.20L417.85 389.20L418.52 389.20L419.19 389.20L419.86 389.20L420.54 389.20L421.21 389.20L421.88 389.20L422.56 389.20L423.23 389.20L423.90 389.20L424.58 389.20L425.25 389.20L425.92 389.20L426.59 389.20L427.27 389.20L427.94 389.20L428.61 389.20L429.29 389.20L429.96 389.20L430.63 389.20L431.30 389.20L431.98 389.20L432.65 389.20L433.32 389.20L434.00 389.20L434.67 389.20L435.34 389.20L436.02 389.20L436.69 389.20L437.36 389.20L438.03 389.20L438.71 389.20L439.38 389.20L440.05 389.20L440.73 389.20L441.40 389.20L442.07 389.20L442.74 389.20L443.42 389.20L444.09 389.20L444.76 389.20L445.44 389.20L446.11 389.20L446.78 389.20L447.45 389.20L448.13 389.20L448.80 389.20L449.47 389.20L450.15 389.20L450.82 389.20L451.49 389.20L452.17 389.20L452.84 389.20L453.51 389.20L454.18 389.20L454.86 389.20L455.53 389.20L456.20 389.20L456.88 389.20L457.55 389.20L458.22 389.20L458.89 389.20L459.57 389.20L460.24 389.20L460.91 389.20L461.59 389.20L462.26 389.20L462.93 389.20L463.61 389.20L464.28 389.20L464.95 389.20L465.62 389.20L466.30 389.20L466.97 389.20L467.64 389.20L468.32 389.20L468.99 389.20L469.66 389.20L470.33 389.20L471.01 389.20L471.68 389.20L472.35 389.20L473.03 389.20L473.70 389.20L474.37 389.20L475.05 389.20L475.72 389.20L476.39 389.20L477.06 389.20L477.74 389.20L478.41 389.20L479.08 389.20L479.76 389.20L480.43 389.20L481.10 389.20L481.77 389.20L482.45 389.20L483.12 389.20L483.79 389.20L484.47 389.20L485.14 389.20L485.81 389.20L486.48 389.20L487.16 389.20L487.83 389.20L488.50 389.20L489.18 389.20L489.85 389.20L490.52 389.20L491.20 389.20L491.87 389.20L492.54 389.20L493.21 389.20L493.89 389.20L494.56 389.20L495.23 389.20L495.91 389.20L496.58 389.20L497.25 389.20L497.92 389.20L498.60 389.20L499.27 389.20L499.94 389.20L500.62 389.20L501.29 389.20L501.96 389.20L502.64 389.20L503.31 389.20L503.98 389.20L504.65 389.20L505.33 389.20L506.00 389.20" stroke="#935DDB" stroke-dasharray="11.5 12.0"/>
<path d="M237.50 429.00L238.17 428.64L238.85 428.27L239.52 427.91L240.19 427.54L240.86 427.18L241.54 426.82L242.21 426.45L242.88 426.09L243.56 425.72L244.23 425.36L244.90 425.00L245.58 424.63L246.25 424.27L246.92 423.90L247.59 423.54L248.27 423.18L248.94 422.81L249.61 422.45L250.29 422.08L250.96 421.72L251.63 421.35L252.30 420.98L252.98 420.61L253.65 420.24L254.32 419.87L255.00 419.50L255.67 419.13L256.34 418.76L257.02 418.39L257.69 418.02L258.36 417.66L259.03 417.29L259.71 416.93L260.38 416.56L261.05 416.20L261.73 415.85L262.40 415.49L263.07 415.14L263.74 414.79L264.42 414.44L265.09 414.09L265.76 413.75L266.44 413.40L267.11 413.06L267.78 412.72L268.45 412.38L269.13 412.05L269.80 411.72L270.47 411.40L271.15 411.08L271.82 410.78L272.49 410.48L273.17 410.19L273.84 409.91L274.51 409.63L275.18 409.35L275.86 409.08L276.53 408.81L277.20 408.54L277.88 408.28L278.55 408.02L279.22 407.76L279.89 407.51L280.57 407.25L281.24 407.00L281.91 406.75L282.59 406.50L283.26 406.25L283.93 406.00L284.61 405.75L285.28 405.49L285.95 405.24L286.62 404.98L287.30 404.73L287.97 404.48L288.64 404.23L289.32 403.99L289.99 403.75L290.66 403.52L291.33 403.30L292.01 403.09L292.68 402.89L293.35 402.69L294.03 402.51L294.70 402.33L295.37 402.15L296.05 401.97L296.72 401.80L297.39 401.63L298.06 401.48L298.74 401.34L299.41 401.21L300.08 401.11L300.76 401.02L301.43 400.96L302.10 400.90L302.77 400.84L303.45 400.78L304.12 400.73L304.79 400.68L305.47 400.64L306.14 400.60L306.81 400.56L307.48 400.54L308.16 400.52L308.83 400.50L309.50 400.50L310.18 400.51L310.85 400.53L311.52 400.57L312.20 400.62L312.87 400.68L313.54 400.75L314.21 400.83L314.89 400.91L315.56 401.00L316.23 401.08L316.91 401.17L317.58 401.27L318.25 401.38L318.92 401.50L319.60 401.64L320.27 401.80L320.94 401.96L321.62 402.13L322.29 402.32L322.96 402.51L323.64 402.71L324.31 402.91L324.98 403.11L325.65 403.32L326.33 403.54L327.00 403.76L327.67 404.01L328.35 404.26L329.02 404.53L329.69 404.81L330.36 405.09L331.04 405.39L331.71 405.69L332.38 405.99L333.06 406.30L333.73 406.61L334.40 406.92L335.08 407.23L335.75 407.55L336.42 407.87L337.09 408.20L337.77 408.53L338.44 408.87L339.11 409.22L339.79 409.57L340.46 409.92L341.13 410.28L341.80 410.64L342.48 411.00L343.15 411.37L343.82 411.73L344.50 412.10L345.17 412.47L345.84 412.83L346.52 413.20L347.19 413.57L347.86 413.93L348.53 414.29L349.21 414.65L349.88 415.01L350.55 415.36L351.23 415.72L351.90 416.08L352.57 416.44L353.24 416.80L353.92 417.15L354.59 417.51L355.26 417.87L355.94 418.23L356.61 418.59L357.28 418.95L357.95 419.31L358.63 419.68L359.30 420.04L359.97 420.40L360.65 420.77L361.32 421.13L361.99 421.50L362.67 421.87L363.34 422.24L364.01 422.61L364.68 422.98L365.36 423.35L366.03 423.73L366.70 424.10L367.38 424.48L368.05 424.86L368.72 425.24L369.39 425.63L370.07 426.01L370.74 426.39L371.41 426.78L372.09 427.16L372.76 427.54L373.43 427.93L374.11 428.31L374.78 428.69L375.45 429.07L376.12 429.46L376.80 429.83L377.47 430.21L378.14 430.59L378.82 430.96L379.49 431.34L380.16 431.71L380.83 432.09L381.51 432.46L382.18 432.83L382.85 433.20L383.53 433.58L384.20 433.95L384.87 434.32L385.55 434.69L386.22 435.06L386.89 435.43L387.56 435.79L388.24 436.16L388.91 436.53L389.58 436.89L390.26 437.26L390.93 437.62L391.60 437.99L392.27 438.35L392.95 438.71L393.62 439.07L394.29 439.43L394.97 439.79L395.64 440.15L396.31 440.50L396.98 440.86L397.66 441.21L398.33 441.57L399.00 441.92L399.68 442.27L400.35 442.62L401.02 442.97L401.70 443.32L402.37 443.68L403.04 444.03L403.71 444.37L404.39 444.72L405.06 445.07L405.73 445.42L406.41 445.77L407.08 446.12L407.75 446.47L408.42 446.82L409.10 447.17L409.77 447.51L410.44 447.86L411.12 448.20L411.79 448.54L412.46 448.88L413.14 449.22L413.81 449.56L414.48 449.90L415.15 450.24L415.83 450.58L416.50 450.92L417.17 451.27L417.85 451.61L418.52 451.95L419.19 452.30L419.86 452.64L420.54 452.99L421.21 453.34L421.88 453.69L422.56 454.05L423.23 454.41L423.90 454.77L424.58 455.13L425.25 455.50L425.92 455.87L426.59 456.25L427.27 456.62L427.94 457.00L428.61 457.39L429.29 457.77L429.96 458.16L430.63 458.55L431.30 458.94L431.98 459.33L432.65 459.73L433.32 460.12L434.00 460.51L434.67 460.91L435.34 461.30L436.02 461.70L436.69 462.09L437.36 462.48L438.03 462.87L438.71 463.26L439.38 463.65L440.05 464.03L440.73 464.42L441.40 464.80L442.07 465.19L442.74 465.57L443.42 465.96L444.09 466.34L444.76 466.73L445.44 467.11L446.11 467.49L446.78 467.88L447.45 468.26L448.13 468.65L448.80 469.03L449.47 469.42L450.15 469.80L450.82 470.18L451.49 470.57L452.17 470.95L452.84 471.34L453.51 471.72L454.18 472.11L454.86 472.49L455.53 472.87L456.20 473.26L456.88 473.64L457.55 474.03L458.22 474.41L458.89 474.79L459.57 475.18L460.24 475.56L460.91 475.95L461.59 476.33L462.26 476.72L462.93 477.10L463.61 477.48L464.28 477.87L464.95 478.25L465.62 478.64L466.30 479.02L466.97 479.41L467.64 479.79L468.32 480.18L468.99 480.57L469.66 480.95L470.33 481.34L471.01 481.73L471.68 482.12L472.35 482.50L473.03 482.89L473.70 483.28L474.37 483.67L475.05 484.06L475.72 484.45L476.39 484.84L477.06 485.23L477.74 485.62L478.41 486.00L479.08 486.39L479.76 486.78L480.43 487.16L481.10 487.55L481.77 487.93L482.45 488.32L483.12 488.70L483.79 489.08L484.47 489.46L485.14 489.84L485.81 490.22L486.48 490.59L487.16 490.97L487.83 491.34L488.50 491.72L489.18 492.09L489.85 492.47L490.52 492.84L491.20 493.21L491.87 493.59L492.54 493.96L493.21 494.33L493.89 494.71L494.56 495.08L495.23 495.46L495.91 495.83L496.58 496.21L497.25 496.58L497.92 496.96L498.60 497.34L499.27 497.71L499.94 498.09L500.62 498.47L501.29 498.85L501.96 499.23L502.64 499.60L503.31 499.98L503.98 500.36L504.65 500.74L505.33 501.12L506.00 501.50" stroke="#A2142F" stroke-dasharray="11.9 3 5.85 2.9"/>
</g>
<path d="M309.50 331.60V574.20" stroke="#262626" stroke-width="1.1" fill="none"/>
<path d="M268.78 574.20v-2.8M268.78 331.60v2.8M313.53 574.20v-2.8M313.53 331.60v2.8M358.28 574.20v-2.8M358.28 331.60v2.8M403.03 574.20v-2.8M403.03 331.60v2.8M447.78 574.20v-2.8M447.78 331.60v2.8M492.53 574.20v-2.8M492.53 331.60v2.8M245.38 574.20v-1.5M245.38 331.60v1.5M250.97 574.20v-1.5M250.97 331.60v1.5M255.31 574.20v-1.5M255.31 331.60v1.5M258.85 574.20v-1.5M258.85 331.60v1.5M261.85 574.20v-1.5M261.85 331.60v1.5M264.44 574.20v-1.5M264.44 331.60v1.5M266.73 574.20v-1.5M266.73 331.60v1.5M282.25 574.20v-1.5M282.25 331.60v1.5M290.13 574.20v-1.5M290.13 331.60v1.5M295.72 574.20v-1.5M295.72 331.60v1.5M300.06 574.20v-1.5M300.06 331.60v1.5M303.60 574.20v-1.5M303.60 331.60v1.5M306.60 574.20v-1.5M306.60 331.60v1.5M309.19 574.20v-1.5M309.19 331.60v1.5M311.48 574.20v-1.5M311.48 331.60v1.5M327.00 574.20v-1.5M327.00 331.60v1.5M334.88 574.20v-1.5M334.88 331.60v1.5M340.47 574.20v-1.5M340.47 331.60v1.5M344.81 574.20v-1.5M344.81 331.60v1.5M348.35 574.20v-1.5M348.35 331.60v1.5M351.35 574.20v-1.5M351.35 331.60v1.5M353.94 574.20v-1.5M353.94 331.60v1.5M356.23 574.20v-1.5M356.23 331.60v1.5M371.75 574.20v-1.5M371.75 331.60v1.5M379.63 574.20v-1.5M379.63 331.60v1.5M385.22 574.20v-1.5M385.22 331.60v1.5M389.56 574.20v-1.5M389.56 331.60v1.5M393.10 574.20v-1.5M393.10 331.60v1.5M396.10 574.20v-1.5M396.10 331.60v1.5M398.69 574.20v-1.5M398.69 331.60v1.5M400.98 574.20v-1.5M400.98 331.60v1.5M416.50 574.20v-1.5M416.50 331.60v1.5M424.38 574.20v-1.5M424.38 331.60v1.5M429.97 574.20v-1.5M429.97 331.60v1.5M434.31 574.20v-1.5M434.31 331.60v1.5M437.85 574.20v-1.5M437.85 331.60v1.5M440.85 574.20v-1.5M440.85 331.60v1.5M443.44 574.20v-1.5M443.44 331.60v1.5M445.73 574.20v-1.5M445.73 331.60v1.5M461.25 574.20v-1.5M461.25 331.60v1.5M469.13 574.20v-1.5M469.13 331.60v1.5M474.72 574.20v-1.5M474.72 331.60v1.5M479.06 574.20v-1.5M479.06 331.60v1.5M482.60 574.20v-1.5M482.60 331.60v1.5M485.60 574.20v-1.5M485.60 331.60v1.5M488.19 574.20v-1.5M488.19 331.60v1.5M490.48 574.20v-1.5M490.48 331.60v1.5M237.50 543.88h2.8M506.00 543.88h-2.8M237.50 513.55h2.8M506.00 513.55h-2.8M237.50 483.23h2.8M506.00 483.23h-2.8M237.50 452.90h2.8M506.00 452.90h-2.8M237.50 422.58h2.8M506.00 422.58h-2.8M237.50 392.25h2.8M506.00 392.25h-2.8M237.50 361.93h2.8M506.00 361.93h-2.8M237.50 565.07h1.5M506.00 565.07h-1.5M237.50 559.73h1.5M506.00 559.73h-1.5M237.50 555.94h1.5M506.00 555.94h-1.5M237.50 553.00h1.5M506.00 553.00h-1.5M237.50 550.60h1.5M506.00 550.60h-1.5M237.50 548.57h1.5M506.00 548.57h-1.5M237.50 546.81h1.5M506.00 546.81h-1.5M237.50 545.26h1.5M506.00 545.26h-1.5M237.50 534.75h1.5M506.00 534.75h-1.5M237.50 529.41h1.5M506.00 529.41h-1.5M237.50 525.62h1.5M506.00 525.62h-1.5M237.50 522.68h1.5M506.00 522.68h-1.5M237.50 520.28h1.5M506.00 520.28h-1.5M237.50 518.25h1.5M506.00 518.25h-1.5M237.50 516.49h1.5M506.00 516.49h-1.5M237.50 514.94h1.5M506.00 514.94h-1.5M237.50 504.42h1.5M506.00 504.42h-1.5M237.50 499.08h1.5M506.00 499.08h-1.5M237.50 495.29h1.5M506.00 495.29h-1.5M237.50 492.35h1.5M506.00 492.35h-1.5M237.50 489.95h1.5M506.00 489.95h-1.5M237.50 487.92h1.5M506.00 487.92h-1.5M237.50 486.16h1.5M506.00 486.16h-1.5M237.50 484.61h1.5M506.00 484.61h-1.5M237.50 474.10h1.5M506.00 474.10h-1.5M237.50 468.76h1.5M506.00 468.76h-1.5M237.50 464.97h1.5M506.00 464.97h-1.5M237.50 462.03h1.5M506.00 462.03h-1.5M237.50 459.63h1.5M506.00 459.63h-1.5M237.50 457.60h1.5M506.00 457.60h-1.5M237.50 455.84h1.5M506.00 455.84h-1.5M237.50 454.29h1.5M506.00 454.29h-1.5M237.50 443.77h1.5M506.00 443.77h-1.5M237.50 438.43h1.5M506.00 438.43h-1.5M237.50 434.64h1.5M506.00 434.64h-1.5M237.50 431.70h1.5M506.00 431.70h-1.5M237.50 429.30h1.5M506.00 429.30h-1.5M237.50 427.27h1.5M506.00 427.27h-1.5M237.50 425.51h1.5M506.00 425.51h-1.5M237.50 423.96h1.5M506.00 423.96h-1.5M237.50 413.45h1.5M506.00 413.45h-1.5M237.50 408.11h1.5M506.00 408.11h-1.5M237.50 404.32h1.5M506.00 404.32h-1.5M237.50 401.38h1.5M506.00 401.38h-1.5M237.50 398.98h1.5M506.00 398.98h-1.5M237.50 396.95h1.5M506.00 396.95h-1.5M237.50 395.19h1.5M506.00 395.19h-1.5M237.50 393.64h1.5M506.00 393.64h-1.5M237.50 383.12h1.5M506.00 383.12h-1.5M237.50 377.78h1.5M506.00 377.78h-1.5M237.50 373.99h1.5M506.00 373.99h-1.5M237.50 371.05h1.5M506.00 371.05h-1.5M237.50 368.65h1.5M506.00 368.65h-1.5M237.50 366.62h1.5M506.00 366.62h-1.5M237.50 364.86h1.5M506.00 364.86h-1.5M237.50 363.31h1.5M506.00 363.31h-1.5M237.50 352.80h1.5M506.00 352.80h-1.5M237.50 347.46h1.5M506.00 347.46h-1.5M237.50 343.67h1.5M506.00 343.67h-1.5M237.50 340.73h1.5M506.00 340.73h-1.5M237.50 338.33h1.5M506.00 338.33h-1.5M237.50 336.30h1.5M506.00 336.30h-1.5M237.50 334.54h1.5M506.00 334.54h-1.5M237.50 332.99h1.5M506.00 332.99h-1.5" stroke="#262626" stroke-width="0.8" fill="none"/>
<rect x="237.50" y="331.60" width="268.50" height="242.60" fill="none" stroke="#262626" stroke-width="1.0"/>
<text x="214.20" y="336.10" font-size="13.5" textLength="12.5" lengthAdjust="spacingAndGlyphs">10</text>
<text x="226.90" y="330.10" font-size="10" textLength="7.6" lengthAdjust="spacingAndGlyphs">-4</text>
<text x="214.20" y="396.75" font-size="13.5" textLength="12.5" lengthAdjust="spacingAndGlyphs">10</text>
<text x="226.90" y="390.75" font-size="10" textLength="7.6" lengthAdjust="spacingAndGlyphs">-6</text>
<text x="214.20" y="457.40" font-size="13.5" textLength="12.5" lengthAdjust="spacingAndGlyphs">10</text>
<text x="226.90" y="451.40" font-size="10" textLength="7.6" lengthAdjust="spacingAndGlyphs">-8</text>
<text x="209.40" y="518.05" font-size="13.5" textLength="12.5" lengthAdjust="spacingAndGlyphs">10</text>
<text x="222.10" y="512.05" font-size="10" textLength="12.4" lengthAdjust="spacingAndGlyphs">-10</text>
<text x="209.40" y="578.70" font-size="13.5" textLength="12.5" lengthAdjust="spacingAndGlyphs">10</text>
<text x="222.10" y="572.70" font-size="10" textLength="12.4" lengthAdjust="spacingAndGlyphs">-12</text>
<text x="259.88" y="592.30" font-size="13.5" textLength="12.5" lengthAdjust="spacingAndGlyphs">10</text>
<text x="272.18" y="586.00" font-size="10">2</text>
<text x="349.38" y="592.30" font-size="13.5" textLength="12.5" lengthAdjust="spacingAndGlyphs">10</text>
<text x="361.68" y="586.00" font-size="10">4</text>
<text x="438.88" y="592.30" font-size="13.5" textLength="12.5" lengthAdjust="spacingAndGlyphs">10</text>
<text x="451.18" y="586.00" font-size="10">6</text>
<text x="319.50" y="609.10" font-size="14.5" textLength="104.5" lengthAdjust="spacingAndGlyphs">Frequency <tspan font-style="italic">f</tspan> in Hz</text>
<text transform="translate(203.9 495.10) rotate(-90)" font-size="14.5" textLength="82" lengthAdjust="spacingAndGlyphs">Power <tspan font-style="italic">P</tspan> in W</text>
<text x="250.9" y="560.1" font-size="14" textLength="42.4" lengthAdjust="spacingAndGlyphs">Bilayer</text>
<text x="392" y="560.1" font-size="14" textLength="38.3" lengthAdjust="spacingAndGlyphs">Tissue</text>
<!-- legends -->
<rect x="519.4" y="91.4" width="162.40" height="79.70" fill="#fff" stroke="#262626" stroke-width="0.9"/>
<path d="M524.0 102.8H570.0" stroke="#000000" stroke-width="3.2"/>
<text x="573.6" y="105.75" font-size="13" textLength="26.8" lengthAdjust="spacingAndGlyphs">Total</text>
<path d="M524.0 122.0H570.0" stroke="#77AC30" stroke-width="3.2" stroke-dasharray="3.1 2.84"/>
<text x="573.6" y="124.95" font-size="13" textLength="31.2" lengthAdjust="spacingAndGlyphs">Wires</text>
<path d="M524.0 140.8H536.1M538.1 140.8H546.3M558.1 140.8H570.0" stroke="#0072BD" stroke-width="3.2"/>
<text x="573.6" y="143.75" font-size="13" textLength="103.2" lengthAdjust="spacingAndGlyphs">Electrolyte + epoxy</text>
<path d="M524.0 159.7H536.1M538.1 159.7H546.3M549.3 159.7H555.2M558.1 159.7H570.0" stroke="#A2142F" stroke-width="3.2"/>
<text x="573.6" y="162.65" font-size="13" textLength="79.0" lengthAdjust="spacingAndGlyphs">Bilayers (both)</text>
<rect x="518.4" y="412.4" width="98.50" height="79.70" fill="#fff" stroke="#262626" stroke-width="0.9"/>
<path d="M523.0 423.7H569.5" stroke="#000000" stroke-width="3.2"/>
<text x="573.6" y="426.65" font-size="13" textLength="26.8" lengthAdjust="spacingAndGlyphs">Total</text>
<path d="M523.0 442.7H569.5" stroke="#77AC30" stroke-width="3.2" stroke-dasharray="3.1 2.84"/>
<text x="573.6" y="445.65" font-size="13" textLength="31.2" lengthAdjust="spacingAndGlyphs">Wires</text>
<path d="M523.0 461.6H535.0M546.8 461.6H558.9" stroke="#935DDB" stroke-width="3.2"/>
<text x="573.6" y="464.55" font-size="13" textLength="33.4" lengthAdjust="spacingAndGlyphs">Tissue</text>
<path d="M523.0 480.7H535.0M538.1 480.7H544.0M546.9 480.7H559.0M561.9 480.7H567.7" stroke="#A2142F" stroke-width="3.2"/>
<text x="573.6" y="483.65" font-size="13" textLength="37.6" lengthAdjust="spacingAndGlyphs">Bilayer</text>
<!-- device schematics -->
<g transform="translate(0 0)">
<circle cx="24.8" cy="71.9" r="24.0" fill="#fff" stroke="#b2b2b2" stroke-width="0.8"/>
<circle cx="24.8" cy="71.9" r="22.7" fill="#fff" stroke="#c0c0c0" stroke-width="0.7"/>
<path d="M11.9 59.3H37.3A18.4 18.4 0 0 1 37.3 85.6H11.9A18.4 18.4 0 0 1 11.9 59.3Z" fill="url(#gBar)" stroke="#b4b4b4" stroke-width="0.7"/>
<path d="M4.7 131.5C4.7 136.6 7 138.1 12 138.3L18 138.4C21.5 138.6 21.6 142 22.8 145.2C23.4 146.8 24 147.3 24.4 147.3C24.9 147.3 25.5 146.8 26.1 145.2C27.3 142 27.4 138.6 31 138.4L37.5 138.3C42.5 138.1 44.8 136.6 44.8 131.5" fill="#fff" stroke="#a8a8a8" stroke-width="0.7"/>
<path d="M24.4 147.3C24.4 160 32 177.15 48.5 177.15H64.1" fill="none" stroke="#a8a8a8" stroke-width="0.8"/>
<rect x="4.9" y="96.1" width="39.8" height="39.8" rx="3.2" ry="3.2" fill="url(#gBodyO)" stroke="#aaaaaa" stroke-width="0.7"/>
<rect x="8.8" y="96.5" width="31.9" height="39.0" rx="2" ry="2" fill="url(#gBodyI)" stroke="#b0b0b0" stroke-width="0.6"/>
<path d="M64.1 177.15H166.5" fill="none" stroke="#4a4a4a" stroke-width="0.9" stroke-dasharray="5.5 1.55"/>
</g>
<g transform="translate(0 322.0)">
<circle cx="24.8" cy="71.9" r="24.0" fill="#fff" stroke="#b2b2b2" stroke-width="0.8"/>
<circle cx="24.8" cy="71.9" r="22.7" fill="#fff" stroke="#c0c0c0" stroke-width="0.7"/>
<path d="M11.9 59.3H37.3A18.4 18.4 0 0 1 37.3 85.6H11.9A18.4 18.4 0 0 1 11.9 59.3Z" fill="url(#gBar)" stroke="#b4b4b4" stroke-width="0.7"/>
<path d="M4.7 131.5C4.7 136.6 7 138.1 12 138.3L18 138.4C21.5 138.6 21.6 142 22.8 145.2C23.4 146.8 24 147.3 24.4 147.3C24.9 147.3 25.5 146.8 26.1 145.2C27.3 142 27.4 138.6 31 138.4L37.5 138.3C42.5 138.1 44.8 136.6 44.8 131.5" fill="#fff" stroke="#a8a8a8" stroke-width="0.7"/>
<path d="M24.4 147.3C24.4 160 32 177.35 48.5 177.35H64.1" fill="none" stroke="#a8a8a8" stroke-width="0.8"/>
<rect x="4.9" y="96.1" width="39.8" height="39.8" rx="3.2" ry="3.2" fill="url(#gBodyO)" stroke="#aaaaaa" stroke-width="0.7"/>
<rect x="8.8" y="96.5" width="31.9" height="39.0" rx="2" ry="2" fill="url(#gBodyI)" stroke="#b0b0b0" stroke-width="0.6"/>
<path d="M64.1 177.35H166.5" fill="none" stroke="#4a4a4a" stroke-width="0.9" stroke-dasharray="5.5 1.55"/>
</g>
<text x="75.1" y="59.7" font-size="14" textLength="43.5" lengthAdjust="spacingAndGlyphs">Bipolar</text>
<text x="60.5" y="76.0" font-size="14" textLength="72.7" lengthAdjust="spacingAndGlyphs">SE 1 vs SE 2</text>
<text x="63.1" y="390.4" font-size="14" textLength="67.5" lengthAdjust="spacingAndGlyphs">Monopolar</text>
<g fill="none" stroke="#000" stroke-width="0.65">
<path d="M69.3 171.8C72.6 165.5 81.6 165.4 85.8 172.2"/>
<path d="M48.5 456.4C65 459 84 476.2 87.5 494"/>
</g>
<g fill="#000" stroke="none">
<path d="M66.6 176.2L66.8 169.4L71.9 172.9Z"/>
<path d="M87.9 176.3L88.4 170.2L83.9 173.2Z"/>
<path d="M43.5 456.2L49.3 453.5L48.8 459.6Z"/>
<path d="M87.5 498.7L85.0 493.8L90.0 493.5Z"/>
</g>
</svg>
</body></html>
